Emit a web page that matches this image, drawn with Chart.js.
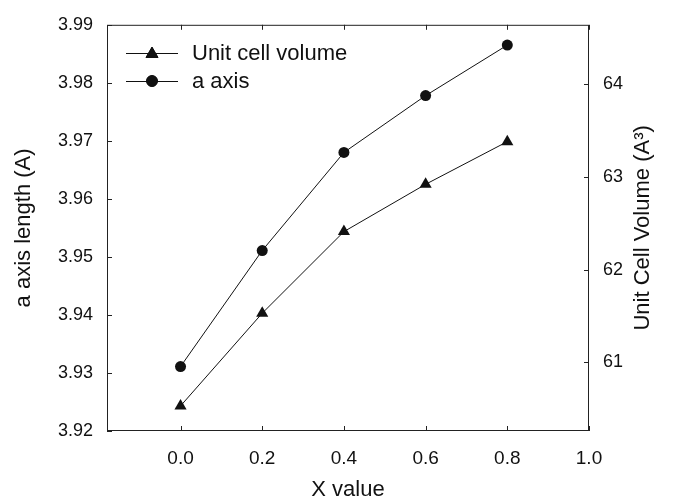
<!DOCTYPE html>
<html>
<head>
<meta charset="utf-8">
<script src="https://cdn.jsdelivr.net/npm/chart.js@4/dist/chart.umd.min.js"></script>
<style>
  html, body { margin: 0; padding: 0; background: #fff; }
  #wrap { width: 673px; height: 502px; }
</style>
</head>
<body>
<div id="wrap"><canvas id="myChart" width="673" height="502"></canvas></div>
<script>
// data
const xValues = [0.0, 0.2, 0.4, 0.6, 0.8];
const aAxis = [3.9311, 3.9511, 3.968, 3.9778, 3.9865];
const cellVolume = [60.53, 61.53, 62.41, 62.92, 63.38];
const xTicks = [0.0, 0.2, 0.4, 0.6, 0.8, 1.0];
const leftTicks = [3.92, 3.93, 3.94, 3.95, 3.96, 3.97, 3.98, 3.99];
const rightTicks = [61, 62, 63, 64];

const FONT = "Arial, 'Liberation Sans', Helvetica, sans-serif";
const INK = '#111';

function fixTicks(list) {
  return function (scale) {
    scale.ticks = list.map(v => ({ value: v }));
  };
}

// frame with inward ticks, right axis title (reads bottom to top) and the legend
const framePlugin = {
  id: 'frame',
  afterDraw(chart) {
    const { ctx, chartArea: a, scales } = chart;
    const len = 5;
    ctx.save();
    ctx.strokeStyle = '#222';
    ctx.lineWidth = 1;
    ctx.strokeRect(a.left + 0.5, a.top + 0.5, a.right - a.left - 1, a.bottom - a.top - 1);
    ctx.beginPath();
    xTicks.forEach(v => {
      const px = Math.round(scales.x.getPixelForValue(v)) + 0.5;
      ctx.moveTo(px, a.bottom); ctx.lineTo(px, a.bottom - len);
      ctx.moveTo(px, a.top); ctx.lineTo(px, a.top + len);
    });
    leftTicks.forEach(v => {
      const py = Math.round(scales.y.getPixelForValue(v)) + 0.5;
      ctx.moveTo(a.left, py); ctx.lineTo(a.left + len, py);
    });
    rightTicks.forEach(v => {
      const py = Math.round(scales.y2.getPixelForValue(v)) + 0.5;
      ctx.moveTo(a.right, py); ctx.lineTo(a.right - len, py);
    });
    ctx.stroke();

    // right axis title
    ctx.fillStyle = INK;
    ctx.font = '22px ' + FONT;
    ctx.textAlign = 'center';
    ctx.textBaseline = 'middle';
    ctx.translate(643, (a.top + a.bottom) / 2);
    ctx.rotate(-Math.PI / 2);
    ctx.fillText('Unit Cell Volume (A³)', 0, 0);
    ctx.setTransform(1, 0, 0, 1, 0, 0);

    // legend in the upper left corner
    const rows = [
      { text: 'Unit cell volume', style: 'triangle', r: 7, y: 53 },
      { text: 'a axis', style: 'circle', r: 5.5, y: 81 },
    ];
    ctx.font = '22px ' + FONT;
    ctx.textAlign = 'left';
    rows.forEach(row => {
      ctx.strokeStyle = INK;
      ctx.fillStyle = INK;
      ctx.beginPath();
      ctx.moveTo(126, row.y + 0.5);
      ctx.lineTo(178, row.y + 0.5);
      ctx.stroke();
      Chart.helpers.drawPoint(ctx, { pointStyle: row.style, radius: row.r, rotation: 0, borderWidth: 1 }, 152, row.y + (row.style === 'triangle' ? 1 : 0));
      ctx.fill();
      ctx.fillText(row.text, 192, row.y + 1);
    });
    ctx.restore();
  },
};

const ctx = document.getElementById('myChart').getContext('2d');
const myChart = new Chart(ctx, {
  type: 'line',
  data: {
    datasets: [
      {
        label: 'Unit cell volume',
        data: xValues.map((x, i) => ({ x: x, y: cellVolume[i] })),
        yAxisID: 'y2',
        borderColor: INK,
        backgroundColor: INK,
        borderWidth: 1,
        pointStyle: 'triangle',
        pointRadius: 7,
        pointBorderWidth: 0,
        tension: 0,
      },
      {
        label: 'a axis',
        data: xValues.map((x, i) => ({ x: x, y: aAxis[i] })),
        yAxisID: 'y',
        borderColor: INK,
        backgroundColor: INK,
        borderWidth: 1,
        pointStyle: 'circle',
        pointRadius: 5.5,
        pointBorderWidth: 0,
        tension: 0,
      },
    ],
  },
  options: {
    responsive: false,
    animation: false,
    layout: { padding: { top: 22, left: 0, right: 0, bottom: 0 } },
    plugins: {
      legend: { display: false },
      tooltip: { enabled: false },
    },
    scales: {
      x: {
        type: 'linear',
        min: -0.18,
        max: 1.0,
        afterBuildTicks: fixTicks(xTicks),
        afterFit(scale) { scale.height = 71; },
        grid: { display: false, drawTicks: false },
        border: { display: false },
        ticks: {
          color: INK,
          padding: 16,
          font: { family: FONT, size: 19 },
          callback: v => v.toFixed(1),
        },
        title: {
          display: true,
          text: 'X value',
          color: INK,
          padding: { top: 0, bottom: 0 },
          font: { family: FONT, size: 22, lineHeight: 1.1 },
        },
      },
      y: {
        position: 'left',
        min: 3.92,
        max: 3.99,
        afterBuildTicks: fixTicks(leftTicks),
        afterFit(scale) { scale.width = 107; },
        grid: { display: false, drawTicks: false },
        border: { display: false },
        ticks: {
          color: INK,
          padding: 14,
          font: { family: FONT, size: 18 },
          callback: v => v.toFixed(2),
        },
        title: {
          display: true,
          text: 'a axis length (A)',
          color: INK,
          padding: { top: 12, bottom: 0 },
          font: { family: FONT, size: 22, lineHeight: 1.1 },
        },
      },
      y2: {
        position: 'right',
        min: 60.26,
        max: 64.64,
        afterBuildTicks: fixTicks(rightTicks),
        afterFit(scale) { scale.width = 84; },
        grid: { display: false, drawTicks: false },
        border: { display: false },
        ticks: {
          color: INK,
          padding: 14,
          font: { family: FONT, size: 18 },
        },
      },
    },
  },
  plugins: [framePlugin],
});
</script>
</body>
</html>
